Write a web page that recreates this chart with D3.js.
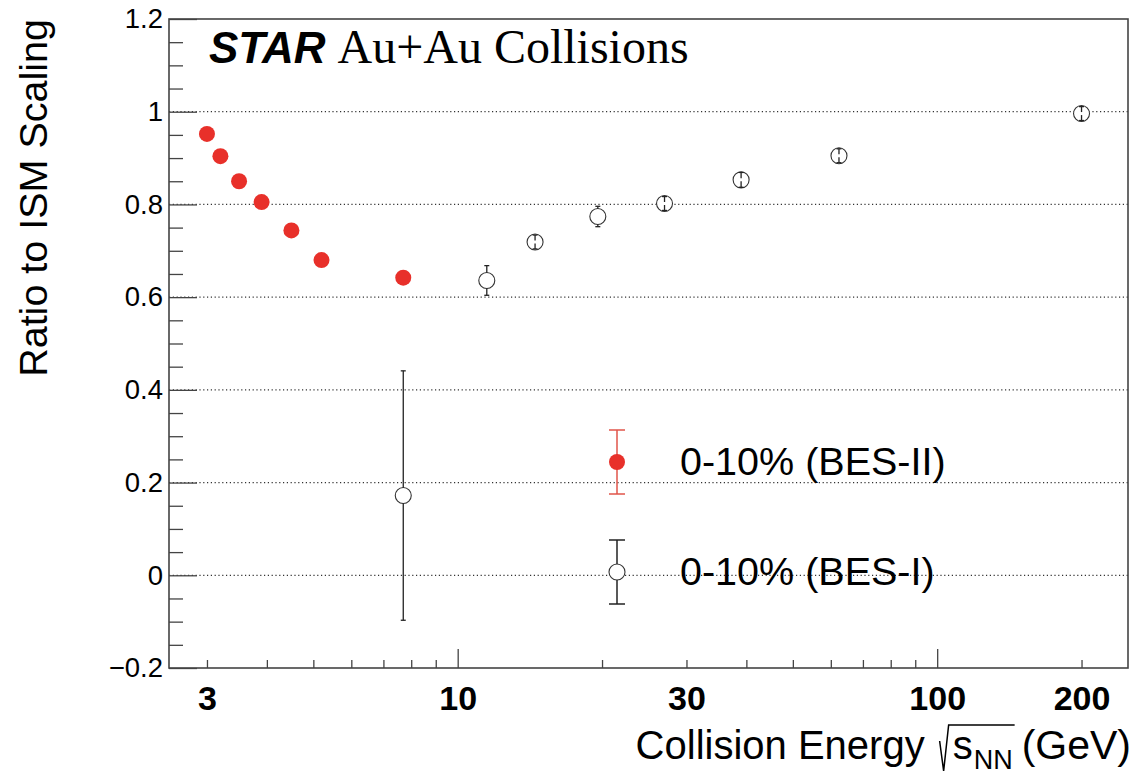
<!DOCTYPE html>
<html>
<head>
<meta charset="utf-8">
<script src="https://cdn.jsdelivr.net/npm/d3@7"></script>
<style>
body{margin:0;background:#fff;}
text{font-family:'Liberation Sans',Arial,Helvetica,sans-serif;fill:#000;}
</style>
</head>
<body>
<div id="wrapper"></div>
<script>
// Data
const besIIEnergy=[3.0,3.2,3.5,3.9,4.5,5.2,7.7];
const besIIRatio=[0.952,0.904,0.850,0.805,0.744,0.680,0.642];
const besIIError=[0.004,0.004,0.004,0.004,0.005,0.005,0.006];
const besIEnergy=[7.7,11.5,14.5,19.6,27,39,62.4,200];
const besIRatio=[0.172,0.636,0.719,0.774,0.802,0.853,0.905,0.996];
const besIError=[0.269,0.032,0.015,0.022,0.015,0.016,0.015,0.015];
const xTickLabels=[3,10,30,100,200];
const xMajorTicks=[10,100];
const xMinorTicks=[3,4,5,6,7,8,9,20,30,40,50,60,70,80,90,200];
const yTicks=[-0.2,0,0.2,0.4,0.6,0.8,1,1.2];
const yGrid=[0,0.2,0.4,0.6,0.8,1];
const legendLabels=['0-10% (BES-II)','0-10% (BES-I)'];

// Dimension
const dimension={width:1134,height:776,margin:{top:19,bottom:108,left:169,right:6}};
dimension.boundWidth=dimension.width-dimension.margin.left-dimension.margin.right;
dimension.boundHeight=dimension.height-dimension.margin.top-dimension.margin.bottom;

const red='#e8302a', ink='#222', frame='#444';

// Canvas
const wrapper=d3.select('#wrapper').append('svg')
  .attr('width',dimension.width).attr('height',dimension.height);
const bounds=wrapper.append('g')
  .attr('transform',`translate(${dimension.margin.left},${dimension.margin.top})`);

// Scales
const xScale=d3.scaleLog().domain([2.5,250]).range([0,dimension.boundWidth]);
const yScale=d3.scaleLinear().domain([-0.2,1.2]).range([dimension.boundHeight,0]);

// Grid
bounds.append('g').selectAll('line').data(yGrid).enter().append('line')
  .attr('x1',0).attr('x2',dimension.boundWidth)
  .attr('y1',d=>yScale(d)).attr('y2',d=>yScale(d))
  .attr('stroke','#333').attr('stroke-width',1.2).attr('stroke-dasharray','1.2,2.6');

// Axes
const yMinor=d3.range(-4,25).filter(i=>i%4!==0).map(i=>i*0.05);
bounds.append('g').call(d3.axisLeft(yScale).tickValues(yMinor).tickSize(-14).tickFormat(''));
bounds.append('g').attr('class','y-axis')
  .call(d3.axisLeft(yScale).tickValues(yTicks).tickSizeInner(-28).tickSizeOuter(0).tickPadding(6).tickFormat(d3.format('~g')));
bounds.append('g').attr('transform',`translate(0,${dimension.boundHeight})`)
  .call(d3.axisBottom(xScale).tickValues(xMinorTicks).tickSize(-8).tickFormat(''));
bounds.append('g').attr('transform',`translate(0,${dimension.boundHeight})`)
  .call(d3.axisBottom(xScale).tickValues(xMajorTicks).tickSize(-19).tickFormat(''));
bounds.append('g').attr('class','x-axis').attr('transform',`translate(0,${dimension.boundHeight})`)
  .call(d3.axisBottom(xScale).tickValues(xTickLabels).tickSize(0).tickPadding(18).tickFormat(d3.format('d')));
bounds.selectAll('.domain').remove();
bounds.selectAll('.tick line').attr('stroke',frame).attr('stroke-width',1.3);
bounds.selectAll('.y-axis text').attr('font-size',27.5).attr('fill','#000');
bounds.selectAll('.x-axis text').attr('font-size',34).attr('font-weight','bold').attr('fill','#000');

// Frame
bounds.append('rect').attr('width',dimension.boundWidth).attr('height',dimension.boundHeight)
  .attr('fill','none').attr('stroke',frame).attr('stroke-width',1.6);

// BES-II points
const besII=besIIEnergy.map((e,i)=>({e,v:besIIRatio[i],err:besIIError[i]}));
bounds.append('g').selectAll('line').data(besII).enter().append('line')
  .attr('x1',d=>xScale(d.e)).attr('x2',d=>xScale(d.e))
  .attr('y1',d=>yScale(d.v+d.err)).attr('y2',d=>yScale(d.v-d.err))
  .attr('stroke',red).attr('stroke-width',1.2);
bounds.append('g').selectAll('circle').data(besII).enter().append('circle')
  .attr('cx',d=>xScale(d.e)).attr('cy',d=>yScale(d.v)).attr('r',8).attr('fill',red);

// BES-I points
const besI=besIEnergy.map((e,i)=>({e,v:besIRatio[i],err:besIError[i]}));
const markerR=8;
bounds.append('g').selectAll('circle').data(besI).enter().append('circle')
  .attr('cx',d=>xScale(d.e)).attr('cy',d=>yScale(d.v)).attr('r',markerR)
  .attr('fill','#fff').attr('stroke','#333').attr('stroke-width',1.1);
const errGroup=bounds.append('g').attr('stroke',ink).attr('stroke-width',1.3);
besI.forEach(d=>{
  const x=xScale(d.e), cy=yScale(d.v), top=yScale(d.v+d.err), bottom=yScale(d.v-d.err);
  const gap=(cy-top)>markerR ? markerR : 1.5;
  errGroup.append('line').attr('x1',x).attr('x2',x).attr('y1',top).attr('y2',cy-gap);
  errGroup.append('line').attr('x1',x).attr('x2',x).attr('y1',cy+gap).attr('y2',bottom);
  [top,bottom].forEach(y=>errGroup.append('line').attr('x1',x-2.5).attr('x2',x+2.5).attr('y1',y).attr('y2',y));
});

// Legend
const legend=wrapper.append('g').attr('transform','translate(617,462)');
const legendItems=[{fill:red,dy:0,bar:'#e0544a'},{fill:'#fff',dy:110,bar:ink}];
legendItems.forEach((d,i)=>{
  const g=legend.append('g').attr('transform',`translate(0,${d.dy})`);
  g.append('line').attr('y1',-32).attr('y2',32).attr('stroke',d.bar).attr('stroke-width',1.5);
  [-32,32].forEach(y=>g.append('line').attr('x1',-8).attr('x2',8).attr('y1',y).attr('y2',y)
    .attr('stroke',d.bar).attr('stroke-width',1.5));
  g.append('circle').attr('r',8).attr('fill',d.fill)
    .attr('stroke',i===0?'none':'#333').attr('stroke-width',1.1);
  g.append('text').attr('x',63).attr('y',13).attr('font-size',39.5).text(legendLabels[i]);
});

// Title
const title=wrapper.append('text').attr('x',209).attr('y',63);
title.append('tspan').attr('font-size',44).attr('font-weight','bold').attr('font-style','italic').text('STAR');
title.append('tspan').attr('dx',12).attr('font-size',48)
  .style('font-family',"'Liberation Serif','Times New Roman',serif").text('Au+Au Collisions');

// Y axis label
wrapper.append('text').attr('transform','translate(47,19) rotate(-90)')
  .attr('text-anchor','end').attr('font-size',39.5).text('Ratio to ISM Scaling');

// X axis label with the radical
const xLabel=wrapper.append('g');
const part1=xLabel.append('text').attr('font-size',40).text('Collision Energy');
const w1=part1.node().getComputedTextLength();
const rx=w1+15;
const sText=xLabel.append('text').attr('x',rx+13).attr('font-size',40).text('s');
const ws=sText.node().getComputedTextLength();
const nn=xLabel.append('text').attr('x',rx+13+ws+1).attr('y',10).attr('font-size',27).text('NN');
const wn=nn.node().getComputedTextLength();
const nnEnd=rx+13+ws+1+wn;
xLabel.append('path')
  .attr('d',`M${rx},-18 L${rx+4},12 L${rx+9},-34 L${nnEnd+2},-34`)
  .attr('fill','none').attr('stroke','#000').attr('stroke-width',1.5);
const gev=xLabel.append('text').attr('x',nnEnd+9).attr('font-size',41).text('(GeV)');
const total=nnEnd+9+gev.node().getComputedTextLength();
xLabel.attr('transform',`translate(${1131-total},759)`);
</script>
</body>
</html>
